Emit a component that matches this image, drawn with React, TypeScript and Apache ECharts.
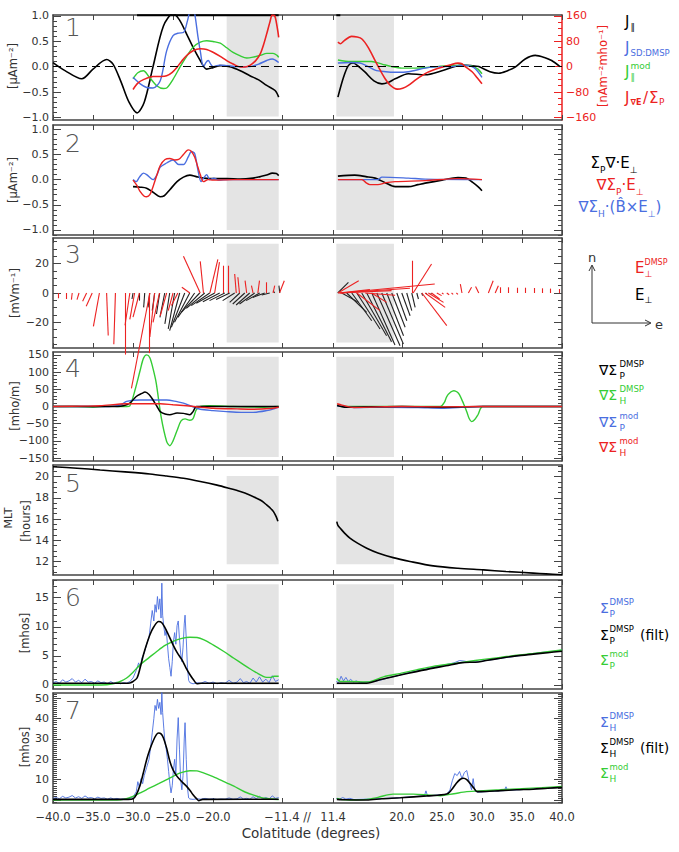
import React, { useEffect, useRef } from 'react';
import * as echarts from 'echarts';

const FONT = '"DejaVu Sans", sans-serif';
const BLACK = '#000000';
const BLUE = '#4a6ee0';
const GREEN = '#35cc35';
const RED = '#ec2222';
const AX = '#444444';
const TXT = '#333333';

// break in colatitude axis: -11.4 .. 11.4 is compressed
const GAP = 8.2;
const tx = (c: number) => (c < 0 ? c + GAP : c - GAP);

// x tick positions (real colatitude)
const xTicks = [-40, -35, -30, -25, -20, -11.4, 11.4, 20, 25, 30, 35, 40];

// ---------- Panel 1: field-aligned currents ----------
const j1BlackL = [[-40,0.08],[-38.5,-0.08],[-36.4,-0.24],[-35,-0.05],[-33.3,0.14],[-32.5,0.05],[-31.5,-0.3],[-30.5,-0.7],[-29.5,-0.91],[-28.6,-0.7],[-27.5,0.0],[-26.2,0.8],[-25.0,1.04],[-24.2,0.92],[-23.3,0.64],[-22.4,0.35],[-21.6,0.12],[-20.8,-0.05],[-20.0,-0.02],[-19.1,0.02],[-17.9,0.0],[-16.6,-0.08],[-15.4,-0.18],[-14.3,-0.26],[-13.3,-0.37],[-12.25,-0.47],[-11.8,-0.6]];
const j1BlackR = [[12.0,-0.6],[12.7,-0.21],[13.3,0.02],[13.9,0.07],[14.6,0.0],[15.4,-0.11],[16.5,-0.28],[17.5,-0.34],[18.3,-0.31],[19.15,-0.24],[20.8,-0.14],[22.9,-0.16],[25.0,-0.08],[26.5,0.0],[27.5,0.03],[28.6,0.02],[29.6,0.0],[31,-0.1],[32.1,-0.13],[33.2,-0.08],[34.15,-0.01],[35.4,0.15],[36.65,0.22],[37.8,0.18],[38.7,0.12],[39.75,0.0]];
const j1BarL = [[-29.5,1.01],[-11.8,1.01]];
const j1BarR = [[11.8,1.01],[12.3,1.01]];
const j1BlueL = [[-30.0,-0.21],[-29.1,-0.34],[-28.3,-0.41],[-27.5,-0.42],[-26.6,-0.28],[-25.8,0.31],[-25.0,0.61],[-24.3,0.66],[-23.7,0.67],[-23.2,0.9],[-22.9,1.1],[-22.6,1.2],[-22.3,1.05],[-21.9,0.6],[-21.6,0.31],[-21.2,-0.01],[-20.9,0.08],[-20.6,0.12],[-20.3,0.05],[-20.0,0.0],[-19.2,0.03],[-18.3,0.02],[-17,0.0],[-15.4,0.0],[-14.3,0.05],[-13.3,0.12],[-12.6,0.15],[-11.8,0.08]];
const j1BlueR = [[12.0,0.07],[13.5,0.08],[15.0,0.06],[16.65,-0.07],[18,-0.1],[19.15,-0.11],[20.8,-0.1],[22.9,-0.03],[24.5,0.0],[26.2,0.0],[27.8,0.03],[29.0,-0.02],[30.0,-0.21]];
const j1GreenL = [[-30.0,-0.24],[-29.4,-0.12],[-28.7,-0.08],[-28.0,-0.2],[-27.0,-0.38],[-26.2,-0.43],[-25.8,-0.42],[-25.0,-0.25],[-24.1,0.0],[-23.3,0.2],[-22.5,0.38],[-21.6,0.48],[-20.8,0.51],[-19.9,0.49],[-19.1,0.46],[-18.3,0.37],[-17.5,0.28],[-16.6,0.21],[-15.8,0.17],[-14.9,0.19],[-14.1,0.22],[-13.3,0.26],[-12.5,0.26],[-12.0,0.22],[-11.8,0.18]];
const j1GreenR = [[12.0,0.13],[13.6,0.1],[16.2,0.1],[17.5,0.05],[18.7,0.0],[20,-0.03],[21.3,-0.03],[24.4,0.0],[27.5,0.03],[28.8,0.01],[29.5,-0.05],[30.0,-0.14]];
// J_divE / Sigma_P  [nA m^-2 mho^-1]
const j1RedL = [[-30.0,-72],[-29.4,-52],[-28.7,-41],[-27.5,-31],[-26.5,-31],[-25.8,-29],[-25.1,-18],[-24.5,-2],[-23.9,18],[-23.3,35],[-22.5,50],[-21.6,56],[-20.8,54],[-20.0,45],[-19.1,32],[-18.3,19],[-17.5,8],[-16.6,-1],[-16.0,-1],[-15.4,4],[-14.7,18],[-14.1,40],[-13.7,68],[-13.3,103],[-12.9,140],[-12.6,162],[-12.3,160],[-12.1,140],[-11.9,110],[-11.8,92]];
const j1RedR = [[12.0,77],[12.3,72],[12.8,82],[13.7,95],[14.4,93],[15.0,87],[15.8,60],[16.65,19],[17.3,-12],[17.9,-38],[18.6,-60],[19.4,-71],[20.1,-68],[20.8,-59],[21.8,-40],[22.9,-22],[24.0,-10],[25.0,-2],[26.0,5],[27.0,11],[27.5,9],[27.9,0],[28.8,-17],[29.4,-35],[30.0,-54]];

// ---------- Panel 2: divergence terms ----------
const p2BlackL = [[-30.0,-0.14],[-29.1,-0.15],[-28.3,-0.17],[-27.5,-0.25],[-26.6,-0.34],[-26.1,-0.32],[-25.4,-0.2],[-24.5,-0.04],[-23.7,0.05],[-22.9,0.09],[-22.1,0.06],[-21.2,0.03],[-19.5,0.02],[-18.3,0.02],[-16.6,0.01],[-15.0,0.03],[-14.1,0.06],[-13.3,0.09],[-12.6,0.13],[-12.1,0.12],[-11.8,0.08]];
const p2RedL = [[-30.0,-0.01],[-29.5,-0.12],[-29.1,-0.24],[-28.6,-0.33],[-28.3,-0.34],[-27.9,-0.3],[-27.5,-0.14],[-27.0,0.1],[-26.6,0.28],[-26.0,0.4],[-25.4,0.42],[-24.8,0.39],[-24.3,0.4],[-23.7,0.5],[-23.1,0.59],[-22.7,0.56],[-22.3,0.45],[-21.9,0.25],[-21.6,0.1],[-21.2,-0.04],[-20.6,0.0],[-20,-0.01],[-17.5,0],[-11.8,0]];
const p2BlueL = [[-30.0,0.0],[-29.6,-0.04],[-29.2,0.05],[-28.7,0.13],[-28.3,0.1],[-27.5,0.0],[-27.0,0.1],[-26.6,0.25],[-25.8,0.33],[-25.0,0.39],[-24.3,0.3],[-23.7,0.3],[-23.1,0.45],[-22.7,0.56],[-22.3,0.52],[-21.9,0.2],[-21.5,-0.04],[-21.1,0.05],[-20.8,0.1],[-20.4,0.0],[-19.9,0.03],[-19.3,-0.01],[-18,0],[-11.8,0]];
const p2BlackR = [[12.0,0.07],[14.1,0.09],[15.5,0.06],[16.65,0.03],[17.9,-0.06],[19.15,-0.14],[20.8,-0.14],[22.0,-0.1],[22.9,-0.07],[25.0,-0.01],[27.0,0.04],[28.0,0.03],[28.8,-0.05],[29.5,-0.14],[30.0,-0.22]];
const p2RedR = [[12.0,0],[15.0,0],[15.5,-0.06],[16.0,-0.1],[17.0,-0.1],[18.0,-0.06],[19.15,-0.04],[22.9,-0.02],[27.0,0.02],[30.0,0]];
const p2BlueR = [[12.0,0],[17.0,0.0],[17.5,0.05],[20.8,0.03],[22.9,0.01],[30.0,0]];

// ---------- Panel 3: electric field vectors [base colat, d(east), north mV/m] ----------
const e3RedL = [[-39.4,0,-3.6],[-38.4,0,-4.1],[-37.6,-0.1,-4.5],[-36.75,-0.25,-4.5],[-35.8,-0.5,-5.7],[-35.1,-0.75,-9.1],[-34.2,-0.75,-22.7],[-33.3,0.2,-29],[-32.2,-0.2,-35],[-31.0,0,-42],[-30.4,-0.6,-22],[-29.8,-0.6,-18],[-29.2,-0.8,-16.5],[-28.0,0,-41],[-27.9,-2.3,-65],[-27.3,-0.6,-30],[-26.7,-0.8,-20],[-25.8,-0.8,-15.5],[-25.0,-0.6,-12],[-24.4,-0.8,-8.6],[-22.9,-1.0,3.9],[-21.6,-2.1,25],[-21.2,-0.4,21.6],[-20.4,1.0,23],[-19.8,0.6,21],[-18.75,0,18.6],[-18.1,0,18.6],[-17.1,-0.2,13],[-16.7,-0.2,10.7],[-15.8,-0.2,8.4],[-15.0,-0.2,5],[-14.4,0.2,8.4],[-13.3,0,7.3],[-12.5,0.2,5],[-11.7,0.6,8.4]];
const e3BlackL = [[-30.0,-0.13,-4.1],[-29.25,0,-5.2],[-28.54,-0.13,-9.8],[-27.92,-0.2,-9.8],[-27.3,-0.3,-12],[-26.67,-0.4,-14.3],[-26.04,-0.6,-16.6],[-25.42,-0.6,-21.1],[-24.8,-0.8,-24.5],[-24.17,-1.25,-25.7],[-23.54,-1.67,-23.4],[-22.92,-1.9,-20],[-22.3,-2.1,-16.6],[-21.67,-2.3,-13.2],[-21.04,-2.3,-10.5],[-20.42,-2.3,-8.6],[-19.8,-2.3,-7],[-19.17,-2.1,-5.9],[-18.54,-1.9,-5.2],[-17.92,-1.7,-4.5],[-17.3,-1.5,-5.2],[-16.67,-1.25,-6.4],[-16.04,-1.5,-7.5],[-15.42,-1.7,-8.2],[-14.8,-1.9,-7.5],[-14.17,-1.7,-5.2],[-13.54,-1.5,-3],[-12.92,-1.0,-1.4],[-12.3,-0.2,1.6],[-11.67,-0.1,5]];
const e3BlackR = [[11.98,1.33,7.3],[12.48,2.1,-6.4],[13.1,2.5,-13.2],[13.73,2.5,-18.9],[14.36,2.9,-24.5],[14.98,3.1,-29.1],[15.6,3.1,-33.2],[16.23,2.9,-35.5],[16.86,2.9,-35.9],[17.48,2.7,-34.8],[18.1,2.1,-29.1],[18.73,1.67,-23.4],[19.36,1.25,-18.9],[19.98,1.04,-15.5],[20.6,0.63,-12],[21.23,0.42,-9.8],[21.86,0.2,-4.1],[22.48,0.1,-1.8],[23.0,0.1,-0.8],[23.6,0.1,-0.6]];
const e3RedR = [[12.0,2.6,8.4],[12.1,3.9,2.3],[12.2,6.5,1.6],[12.3,8.7,3.2],[12.4,11.7,6.1],[14.36,2.9,-12],[15.4,3.75,-1.5],[16.2,1.9,-6.4],[21.3,0,22],[21.4,2.3,19.8],[22.5,3.1,-22.3],[22.9,2.5,-9.8],[23.3,1.9,-6.4],[23.7,1.0,-4.1],[24.36,0.6,-1.8],[25.0,0.2,-0.8],[25.6,0.3,-1.2],[26.2,0.2,-0.9],[26.8,0.2,-1],[27.5,-0.2,6.1],[28.3,0.4,3.9],[29.6,-0.4,4.5],[30.8,0.6,8.4],[31.65,0.4,5],[32.3,0,3.9],[33.3,0,3.9],[34.4,0,3.6],[35.4,0,3.6],[36.5,0,3.4],[37.5,0,3.2],[38.5,0,3.0],[39.6,0,2.7]];

// ---------- Panel 4: conductance gradients [mho/m] ----------
const p4GreenL = [[-40,0],[-37,0],[-35,-2],[-33,1],[-31.5,0],[-30.8,0],[-30.4,2],[-29.75,48],[-29.1,106],[-28.7,140],[-28.3,150],[-27.9,142],[-27.5,110],[-27.1,68],[-26.5,-29],[-25.8,-102],[-25.4,-114],[-25.0,-100],[-24.5,-70],[-24.0,-42],[-23.5,-36],[-22.9,-40],[-22.5,-35],[-22.1,-10],[-21.6,0],[-20.5,2],[-17.5,0],[-14,-2],[-11.8,0]];
const p4BlackL = [[-40,0],[-32,0],[-31.2,2],[-30.4,10],[-29.6,29],[-28.9,38],[-28.5,42],[-28.0,35],[-27.5,19],[-27.0,0],[-26.6,-15],[-26.0,-22],[-25.4,-24],[-24.5,-19],[-23.7,-20],[-22.9,-24],[-22.5,-15],[-22.1,0],[-21.5,0],[-11.8,0]];
const p4BlueL = [[-40,0],[-33,0],[-31.5,5],[-30.8,15],[-29.1,19],[-27,19],[-25.8,19],[-24.5,14],[-23.7,10],[-22.6,0],[-21.6,-8],[-20,-12],[-18.3,-15],[-16.5,-17],[-15,-17],[-13.3,-12],[-12.3,-6],[-11.8,-2]];
const p4RedL = [[-40,0],[-36,1],[-34.1,2],[-30.8,8],[-28,8],[-26.6,8],[-25,5],[-23.3,2],[-21.5,-2],[-20,-5],[-17,-7],[-15,-8],[-13,-6],[-11.8,-2]];
const p4GreenR = [[11.9,5],[12.5,0],[20,0],[24.8,0],[25.3,12],[25.6,29],[26.1,42],[26.5,46],[26.9,42],[27.2,34],[27.7,8],[28.1,-15],[28.4,-35],[28.7,-44],[29.1,-38],[29.5,-24],[30.1,0],[40,0]];
const p4BlackR = [[11.9,3],[13,-2],[16,-1],[20,0],[25,-2],[30,0],[40,0]];
const p4BlueR = [[11.9,2],[14,-3],[18,-2],[22,-3],[25,-5],[27,-3],[30,0],[40,0]];
const p4RedR = [[11.9,8],[12.5,4],[14,-3],[17,-1],[20,0],[25,-1],[30,0],[40,0]];

// ---------- Panel 5: MLT [hours] ----------
const mltL = [[-40,20.94],[-37,20.8],[-34.1,20.63],[-31,20.45],[-27.9,20.25],[-25.8,20.06],[-23.7,19.85],[-21.6,19.55],[-19.5,19.2],[-18,18.9],[-16.6,18.6],[-15.5,18.3],[-14.55,17.96],[-13.9,17.7],[-13.3,17.33],[-12.8,17.0],[-12.45,16.7],[-12.1,16.2],[-11.9,15.8]];
const mltR = [[11.86,15.75],[12.0,15.4],[12.3,15.13],[12.8,14.7],[13.5,14.2],[14.5,13.7],[15.6,13.25],[17,12.8],[18.9,12.36],[21,12.0],[23.9,11.58],[27,11.35],[30.2,11.2],[33,11.05],[36.4,10.9],[38,10.83],[40,10.74]];

// ---------- Panel 6: Pedersen conductance [mhos] ----------
const p6BlueL = [[-40,0.4],[-39.6,0.6],[-39.2,0.3],[-38.8,0.9],[-38.4,0.5],[-38,0.7],[-37.6,1.1],[-37.2,0.5],[-36.8,0.8],[-36.4,0.4],[-36,1.0],[-35.6,0.5],[-35.2,0.6],[-34.8,0.3],[-34.4,0.7],[-34,0.4],[-33.6,0.5],[-33.2,0.2],[-32.8,0.6],[-32.4,0.3],[-32,0.5],[-31.6,0.2],[-31.2,0.4],[-30.8,0.3],[-30.4,0.6],[-30,1.2],[-29.6,2.5],[-29.3,3.8],[-29.1,2.9],[-28.9,4.6],[-28.6,5.5],[-28.3,7.0],[-28.0,8.2],[-27.8,10.5],[-27.6,12.8],[-27.4,11.0],[-27.25,13.8],[-27.1,12.5],[-26.95,15.2],[-26.8,13.0],[-26.65,14.8],[-26.5,11.5],[-26.4,17.5],[-26.3,12.0],[-26.15,10.0],[-26.0,8.5],[-25.85,9.5],[-25.7,7.0],[-25.55,4.5],[-25.4,3.0],[-25.25,1.5],[-25.1,4.0],[-24.95,7.5],[-24.8,9.0],[-24.65,7.0],[-24.5,10.2],[-24.35,11.0],[-24.2,8.0],[-24.05,5.5],[-23.9,4.0],[-23.75,6.5],[-23.6,10.5],[-23.5,12.0],[-23.35,8.0],[-23.2,3.0],[-23.05,0.8],[-22.9,0.4],[-22.5,0.2],[-22,0.4],[-21.5,0.3],[-21,0.6],[-20.5,0.3],[-20,0.5],[-19.5,0.2],[-19,0.4],[-18.5,0.3],[-18,0.8],[-17.5,0.3],[-17,0.5],[-16.6,1.1],[-16.2,0.4],[-15.8,0.6],[-15.4,0.3],[-15,1.2],[-14.6,0.5],[-14.2,1.4],[-13.8,0.5],[-13.4,1.0],[-13,0.4],[-12.6,1.6],[-12.2,0.6],[-11.8,0.9]];
const p6BlueR = [[11.8,0.6],[12.1,0.4],[12.4,1.5],[12.7,0.7],[13.0,1.3],[13.3,0.6],[13.6,1.0],[13.9,0.5],[14.3,0.7],[14.8,0.4],[15.5,0.5],[16.5,0.6],[17.5,0.9],[18.5,1.3],[19.5,1.6],[20.5,2.0],[21.5,2.3],[22.5,2.6],[23.5,2.9],[24.5,3.2],[25.5,3.5],[26.5,3.8],[27.2,4.2],[27.8,4.1],[28.5,3.9],[29.5,4.0],[30.5,4.2],[31.5,4.4],[32.5,4.6],[33.5,4.8],[34.5,5.0],[35.5,5.2],[36.5,5.4],[37.5,5.6],[38.5,5.7],[39.5,5.9],[40,6.0]];
const p6BlackL = [[-40,0.3],[-35,0.3],[-31,0.3],[-30.4,0.35],[-30.0,0.6],[-29.5,1.2],[-29.1,3.0],[-28.7,5.2],[-28.3,7.0],[-27.9,8.6],[-27.4,10.0],[-26.8,10.9],[-26.4,10.7],[-26.0,9.8],[-25.5,8.4],[-25.0,6.9],[-24.5,5.6],[-23.9,4.35],[-23.4,3.0],[-22.9,1.8],[-22.4,0.8],[-22.0,0.2],[-21.5,0.3],[-16,0.3],[-11.8,0.3]];
const p6BlackR = [[11.86,0.3],[13,0.3],[14.5,0.3],[15.6,0.3],[17.5,1.0],[19.8,1.7],[21.8,2.3],[23.9,2.9],[25.5,3.3],[27.3,3.8],[28.5,3.9],[29.2,3.9],[30.5,4.2],[32.3,4.6],[34.3,5.0],[36.4,5.3],[38.2,5.55],[40,5.8]];
const p6GreenL = [[-40,0],[-34,0],[-32.5,0.2],[-31.6,0.6],[-30.8,1.2],[-30,2.2],[-29.1,3.5],[-28,4.7],[-27,5.8],[-26,6.8],[-25,7.5],[-23.9,8.0],[-22.9,8.2],[-22,8.15],[-21.2,7.8],[-20,6.9],[-18.7,5.8],[-17.4,4.6],[-16.2,3.5],[-15.3,2.7],[-14.55,2.1],[-13.9,1.6],[-13.3,1.3],[-12.8,1.3],[-12.4,1.5],[-11.8,1.5]];
const p6GreenR = [[11.86,1.15],[12.3,0.6],[13.5,0.6],[15.6,0.5],[17.7,1.4],[19.8,2.0],[21.8,2.6],[23.9,3.2],[26,3.6],[28.1,4.0],[30.2,4.4],[32.3,4.75],[34.3,5.1],[36.4,5.4],[38.2,5.7],[40,6.0]];

// ---------- Panel 7: Hall conductance [mhos] ----------
const p7BlueL = [[-40,0.8],[-39.6,1.2],[-39.2,0.6],[-38.8,1.8],[-38.4,1.0],[-38,1.4],[-37.6,2.2],[-37.2,1.0],[-36.8,1.6],[-36.4,0.8],[-36,2.0],[-35.6,1.0],[-35.2,1.2],[-34.8,0.6],[-34.4,1.4],[-34,0.8],[-33.6,1.0],[-33.2,0.4],[-32.8,1.0],[-32.4,0.5],[-32,0.8],[-31.6,0.4],[-31.2,0.6],[-30.8,0.5],[-30.4,0.8],[-30,1.5],[-29.6,4.0],[-29.4,9.0],[-29.2,6.0],[-29.0,10.5],[-28.8,8.0],[-28.6,12.0],[-28.3,16.0],[-28.0,20.0],[-27.8,26.0],[-27.6,33.0],[-27.4,40.0],[-27.25,46.5],[-27.1,44.0],[-26.95,49.5],[-26.8,45.0],[-26.65,48.0],[-26.5,42.0],[-26.4,53.0],[-26.3,43.0],[-26.15,35.0],[-26.0,28.0],[-25.85,25.0],[-25.7,20.0],[-25.55,14.0],[-25.4,8.0],[-25.25,3.5],[-25.1,7.0],[-24.95,15.0],[-24.8,20.0],[-24.65,12.0],[-24.5,30.0],[-24.35,40.5],[-24.2,25.0],[-24.05,10.0],[-23.9,5.0],[-23.75,12.0],[-23.6,30.0],[-23.5,38.0],[-23.35,20.0],[-23.2,6.0],[-23.05,1.0],[-22.9,0.5],[-22.5,0.3],[-22,0.6],[-21.5,0.4],[-21,0.8],[-20.5,0.4],[-20,0.6],[-19.5,0.3],[-19,0.5],[-18.5,0.4],[-18,1.0],[-17.5,0.4],[-17,0.6],[-16.6,1.5],[-16.2,0.5],[-15.8,0.8],[-15.4,0.4],[-15,1.6],[-14.6,0.6],[-14.2,1.8],[-13.8,0.6],[-13.4,1.2],[-13,0.5],[-12.6,2.0],[-12.2,0.8],[-11.8,1.2]];
const p7BlueR = [[11.8,0.8],[12.2,0.4],[12.6,1.2],[13,0.5],[13.5,0.8],[14,0.3],[15,0.4],[16,0.5],[17,0.6],[18,0.8],[19,1.0],[20,1.2],[21,1.5],[22,1.8],[22.8,2.0],[23.0,4.5],[23.2,2.0],[24,2.3],[25,2.6],[25.6,2.8],[26.0,5.0],[26.3,9.5],[26.6,13.0],[26.9,12.0],[27.2,14.0],[27.5,10.5],[27.8,13.5],[28.1,14.5],[28.4,9.0],[28.7,5.0],[28.9,10.5],[29.1,4.5],[29.5,3.8],[30,4.0],[31,4.2],[32,4.5],[32.8,4.6],[33.0,6.5],[33.2,4.7],[34,4.9],[35,5.1],[36,5.4],[37,5.6],[38,5.8],[39,6.0],[40,6.2]];
const p7BlackL = [[-40,0.3],[-35,0.3],[-30.6,0.3],[-30.0,0.6],[-29.6,2.5],[-29.1,7.5],[-28.7,13.5],[-28.3,19.8],[-27.9,24.8],[-27.5,28.9],[-27.1,32.0],[-26.8,32.9],[-26.5,32.5],[-26.2,30.5],[-25.8,25.5],[-25.4,19.0],[-25.0,14.8],[-24.5,11.6],[-23.9,9.0],[-23.3,6.7],[-22.9,4.8],[-22.5,2.6],[-22.1,0.8],[-21.8,-0.3],[-21.3,0.3],[-16,0.4],[-11.8,0.4]];
const p7BlackR = [[11.86,0.3],[13,0.1],[15.6,0.0],[17.5,0.6],[19.8,1.1],[23.1,2.0],[25.6,2.9],[26.2,5.0],[26.8,8.2],[27.3,10.2],[27.7,10.7],[28.1,10.0],[28.5,8.2],[29.0,5.8],[29.4,4.1],[30.5,4.2],[32.3,4.6],[34.3,5.0],[36.4,5.3],[38.2,5.8],[40,6.2]];
const p7GreenL = [[-40,0],[-32,0],[-31.2,0.3],[-30.0,1.8],[-28.9,3.9],[-27.9,5.9],[-26.8,8.0],[-25.8,10.0],[-24.9,11.9],[-24.1,13.3],[-22.9,14.4],[-22.0,14.3],[-21.2,13.3],[-20.0,11.5],[-18.7,9.2],[-17.4,6.8],[-16.2,4.3],[-15.1,2.6],[-14.1,1.3],[-13,0.6],[-11.8,0.2]];
const p7GreenR = [[11.86,0.8],[12.5,0.2],[13.5,0.0],[15.6,0.3],[17.0,1.3],[18.9,2.9],[21.4,2.9],[23.5,2.4],[24.8,2.1],[26.5,3.1],[28.1,4.1],[30.2,4.6],[32.3,5.0],[35,5.6],[37.5,6.1],[40,6.6]];

// shaded (data-gap) colatitude ranges
const shadeL = [-18.3, -11.8];
const shadeR = [11.8, 19.0];

// y tick labels per panel
const yMajors = [
  [-1, -0.5, 0, 0.5, 1],
  [-1, -0.5, 0, 0.5, 1],
  [-20, 0, 20],
  [-150, -100, -50, 0, 50, 100, 150],
  [12, 14, 16, 18, 20],
  [0, 5, 10, 15],
  [0, 10, 20, 30, 40, 50],
];
const redMajors = [-160, -80, 0, 80, 160];

// layout (pixels) and axis ranges
const PANELS = [
  { top: 15, height: 105, min: -1.05, max: 1.015, minor: 0.1, dec: 1, shade: [-0.98, 0.99] },
  { top: 125, height: 110, min: -1.1, max: 1.085, minor: 0.1, dec: 1, shade: [-1.0, 0.99] },
  { top: 238, height: 110, min: -37.5, max: 37.5, minor: 5, dec: 0, shade: [-33.7, 33.6] },
  { top: 352, height: 109, min: -158.5, max: 158.5, minor: 10, dec: 0, shade: [-147, 145] },
  { top: 465, height: 110, min: 10.72, max: 21.1, minor: 0.5, dec: 0, shade: [11.73, 20.07] },
  { top: 580, height: 109, min: -0.69, max: 18.04, minor: 1, dec: 0, shade: [0, 17.3] },
  { top: 693, height: 110, min: -1.48, max: 52.6, minor: 1, dec: 0, shade: [1.0, 50.1] },
];

const fmtNum = (v: number, dec: number) => (v < -1e-9 ? '\u2212' : '') + Math.abs(v).toFixed(dec);

function minorVals(min: number, max: number, step: number) {
  const out: number[] = [];
  const start = Math.ceil(min / step);
  const end = Math.floor(max / step);
  for (let i = start; i <= end; i++) out.push(+(i * step).toFixed(4));
  return out;
}

function buildOption() {
  const xT = xTicks.map(tx);
  const grid: any[] = [];
  const xAxis: any[] = [];
  const yAxis: any[] = [];
  PANELS.forEach((p, i) => {
    grid.push({ left: 53, width: 509, top: p.top, height: p.height });
    const xBase = {
      type: 'value', gridIndex: i, min: -31.8, max: 31.8,
      axisLine: { show: true, onZero: false, lineStyle: { color: AX, width: 1.5 } },
      axisTick: { show: true, inside: true, length: 5, customValues: xT, lineStyle: { color: AX } },
      splitLine: { show: false },
    };
    xAxis.push({
      ...xBase, position: 'bottom',
      axisLabel: {
        show: i === PANELS.length - 1, customValues: xT, hideOverlap: false,
        formatter: (v: number) => fmtNum(v < 0 ? v - GAP : v + GAP, 1),
        color: TXT, fontSize: 11.5, fontFamily: FONT, margin: 8,
      },
    });
    xAxis.push({ ...xBase, position: 'top', axisLabel: { show: false } });
    const majors = yMajors[i];
    const minors = minorVals(p.min, p.max, p.minor);
    const yBase = { type: 'value', gridIndex: i, min: p.min, max: p.max, splitLine: { show: false } };
    yAxis.push({
      ...yBase, position: 'left',
      axisLine: { show: true, onZero: false, lineStyle: { color: AX, width: 1.5 } },
      axisTick: { show: true, inside: true, length: 8, customValues: majors, lineStyle: { color: AX } },
      axisLabel: { show: true, customValues: majors, formatter: (v: number) => fmtNum(v, p.dec), color: TXT, fontSize: 11, fontFamily: FONT, margin: 4 },
    });
    yAxis.push({
      ...yBase, position: 'left',
      axisLine: { show: false, onZero: false },
      axisTick: { show: true, inside: true, length: 4, customValues: minors, lineStyle: { color: AX } },
      axisLabel: { show: false },
    });
    if (i === 0) {
      const rmin = p.min * 160, rmax = p.max * 160;
      yAxis.push({
        type: 'value', gridIndex: i, min: rmin, max: rmax, position: 'right', splitLine: { show: false },
        axisLine: { show: true, onZero: false, lineStyle: { color: RED, width: 1.5 } },
        axisTick: { show: true, inside: true, length: 8, customValues: redMajors, lineStyle: { color: RED } },
        axisLabel: { show: true, customValues: redMajors, formatter: (v: number) => fmtNum(v, 0), color: RED, fontSize: 11, fontFamily: FONT, margin: 4 },
      });
      yAxis.push({
        type: 'value', gridIndex: i, min: rmin, max: rmax, position: 'right', splitLine: { show: false },
        axisLine: { show: false, onZero: false },
        axisTick: { show: true, inside: true, length: 4, customValues: minorVals(rmin, rmax, 20), lineStyle: { color: RED } },
        axisLabel: { show: false },
      });
    } else {
      yAxis.push({
        ...yBase, position: 'right',
        axisLine: { show: true, onZero: false, lineStyle: { color: AX, width: 1.5 } },
        axisTick: { show: true, inside: true, length: 8, customValues: majors, lineStyle: { color: AX } },
        axisLabel: { show: false },
      });
      yAxis.push({
        ...yBase, position: 'right',
        axisLine: { show: false, onZero: false },
        axisTick: { show: true, inside: true, length: 4, customValues: minors, lineStyle: { color: AX } },
        axisLabel: { show: false },
      });
    }
  });

  const series: any[] = [];
  const ln = (p: number, data: number[][], color: string, width = 1.4, extra: any = {}) => {
    series.push({
      type: 'line', xAxisIndex: 2 * p, yAxisIndex: extra.yIdx ?? 4 * p,
      data: data.map(([c, v]) => [tx(c), v]),
      symbol: 'none', showSymbol: false, smooth: extra.smooth ?? 0.3,
      clip: extra.clip ?? true,
      lineStyle: { color, width }, silent: true, z: 3,
      ...(extra.mark || {}),
    });
  };
  const vec = (p: number, data: number[][], color: string) => {
    series.push({
      type: 'lines', coordinateSystem: 'cartesian2d', xAxisIndex: 2 * p, yAxisIndex: 4 * p,
      clip: false, silent: true, z: 3,
      lineStyle: { color, width: 1.1, opacity: 1, curveness: 0 },
      data: data.map(([b, d, v]) => ({ coords: [[tx(b), 0], [tx(b + d), v]] })),
    });
  };
  const shadeMark = (p: number) => ({
    markArea: {
      silent: true, z: 1,
      itemStyle: { color: '#e4e4e4' },
      data: [
        [{ xAxis: tx(shadeL[0]), yAxis: PANELS[p].shade[0] }, { xAxis: tx(shadeL[1]), yAxis: PANELS[p].shade[1] }],
        [{ xAxis: tx(shadeR[0]), yAxis: PANELS[p].shade[0] }, { xAxis: tx(shadeR[1]), yAxis: PANELS[p].shade[1] }],
      ],
    },
  });

  // panel 1
  ln(0, j1BlackL, BLACK, 1.6, {
    mark: {
      ...shadeMark(0),
      markLine: { silent: true, symbol: 'none', label: { show: false }, lineStyle: { color: BLACK, type: [8, 5], width: 1 }, data: [{ yAxis: 0 }] },
    },
  });
  ln(0, j1BlackR, BLACK, 1.6);
  ln(0, j1BarL, BLACK, 2, { clip: false, smooth: false });
  ln(0, j1BarR, BLACK, 2, { clip: false, smooth: false });
  ln(0, j1GreenL, GREEN); ln(0, j1GreenR, GREEN);
  ln(0, j1BlueL, BLUE); ln(0, j1BlueR, BLUE);
  ln(0, j1RedL, RED, 1.6, { yIdx: 2 }); ln(0, j1RedR, RED, 1.6, { yIdx: 2 });
  // panel 2
  ln(1, p2BlackL, BLACK, 1.6, { mark: shadeMark(1) });
  ln(1, p2BlackR, BLACK, 1.6);
  ln(1, p2BlueL, BLUE); ln(1, p2BlueR, BLUE);
  ln(1, p2RedL, RED); ln(1, p2RedR, RED);
  // panel 3
  series.push({ type: 'line', xAxisIndex: 4, yAxisIndex: 8, data: [[tx(-40), 0]], symbol: 'none', lineStyle: { width: 0 }, silent: true, ...shadeMark(2) });
  vec(2, e3BlackL, '#222'); vec(2, e3BlackR, '#222');
  vec(2, e3RedL, RED); vec(2, e3RedR, RED);
  // panel 4
  ln(3, p4GreenL, GREEN, 1.4, { mark: shadeMark(3) }); ln(3, p4GreenR, GREEN);
  ln(3, p4BlueL, BLUE); ln(3, p4BlueR, BLUE);
  ln(3, p4BlackL, BLACK, 1.5); ln(3, p4BlackR, BLACK, 1.5);
  ln(3, p4RedL, RED); ln(3, p4RedR, RED);
  // panel 5
  ln(4, mltL, BLACK, 1.6, { mark: shadeMark(4) }); ln(4, mltR, BLACK, 1.6);
  // panel 6
  ln(5, p6BlueL, BLUE, 0.9, { smooth: false, mark: shadeMark(5) }); ln(5, p6BlueR, BLUE, 0.9, { smooth: false });
  ln(5, p6GreenL, GREEN, 1.4); ln(5, p6GreenR, GREEN, 1.4);
  ln(5, p6BlackL, BLACK, 1.6); ln(5, p6BlackR, BLACK, 1.6);
  // panel 7
  ln(6, p7BlueL, BLUE, 0.9, { smooth: false, mark: shadeMark(6) }); ln(6, p7BlueR, BLUE, 0.9, { smooth: false });
  ln(6, p7GreenL, GREEN, 1.4); ln(6, p7GreenR, GREEN, 1.4);
  ln(6, p7BlackL, BLACK, 1.6); ln(6, p7BlackR, BLACK, 1.6);

  // ---------- graphic texts ----------
  const T = (x: number, y: number, text: string, o: any = {}) => ({
    type: 'text', x, y, rotation: o.rot || 0, silent: true, z: 10,
    style: {
      text, fill: o.color || TXT, fontSize: o.size || 12, fontFamily: FONT,
      fontWeight: o.weight || 'normal', align: o.align || 'left', verticalAlign: 'middle',
      rich: o.rich, lineHeight: o.lh,
    },
  });
  const g: any[] = [];
  [27, 143, 254, 368, 483, 597, 710].forEach((y, i) => g.push(T(73, y, String(i + 1), { size: 25, color: '#555', align: 'center', weight: 200 })));
  const R = Math.PI / 2;
  g.push(T(13, 66, '[\u03bcAm\u207b\u00b2]', { rot: R, align: 'center', size: 11.5 }));
  g.push(T(13, 180, '[\u03bcAm\u207b\u00b2]', { rot: R, align: 'center', size: 11.5 }));
  g.push(T(15, 293, '[mVm\u207b\u00b9]', { rot: R, align: 'center', size: 11.5 }));
  g.push(T(15, 406, '[mho/m]', { rot: R, align: 'center', size: 11.5 }));
  g.push(T(8, 518, 'MLT', { rot: R, align: 'center', size: 11 }));
  g.push(T(26, 521, '[hours]', { rot: R, align: 'center', size: 11.5 }));
  g.push(T(25, 633, '[mhos]', { rot: R, align: 'center', size: 11.5 }));
  g.push(T(25, 747, '[mhos]', { rot: R, align: 'center', size: 11.5 }));
  g.push(T(603, 66, '[nAm\u207b\u00b2mho\u207b\u00b9]', { rot: R, align: 'center', size: 11.5, color: RED }));
  g.push(T(311, 833, 'Colatitude (degrees)', { align: 'center', size: 13.5 }));
  g.push(T(307, 817, '//', { align: 'center', size: 11.5 }));

  // panel 1 legend
  g.push(T(625, 22, 'J', { size: 15, color: BLACK }), T(630.5, 27, '\u2225', { size: 9, color: BLACK }));
  g.push(T(625, 48, 'J', { size: 15, color: BLUE }), T(630.5, 53, 'SD:DMSP', { size: 8.5, color: BLUE }));
  g.push(T(625, 72, 'J', { size: 15, color: GREEN }), T(630.5, 66, 'mod', { size: 9, color: GREEN }), T(630.5, 77, '\u2225', { size: 9, color: GREEN }));
  g.push(T(625, 98, 'J', { size: 15, color: RED }), T(630.5, 102, '\u2207E', { size: 8, color: RED, weight: 'bold' }),
    T(643, 98, '/', { size: 15, color: RED }), T(649, 98, '\u03a3', { size: 15, color: RED }), T(659, 102, 'P', { size: 9, color: RED }));

  // panel 2 legend
  const rich = (c: string) => ({ s: { fontSize: 9, lineHeight: 11, verticalAlign: 'bottom', fill: c, fontFamily: FONT } });
  g.push(T(614, 163, '\u03a3{s|P}\u2207\u00b7E{s|\u22a5}', { size: 15, color: BLACK, align: 'center', rich: rich(BLACK), lh: 22 }));
  g.push(T(620, 185, '\u2207\u03a3{s|P}\u00b7E{s|\u22a5}', { size: 15, color: RED, align: 'center', rich: rich(RED), lh: 22 }));
  g.push(T(620, 207, '\u2207\u03a3{s|H}\u00b7(B\u0302\u00d7E{s|\u22a5})', { size: 15, color: BLUE, align: 'center', rich: rich(BLUE), lh: 22 }));

  // panel 3 legend
  g.push({ type: 'line', silent: true, shape: { x1: 592, y1: 323, x2: 592, y2: 266 }, style: { stroke: '#333', lineWidth: 1 } });
  g.push({ type: 'line', silent: true, shape: { x1: 592, y1: 323, x2: 650, y2: 323 }, style: { stroke: '#333', lineWidth: 1 } });
  g.push({ type: 'polyline', silent: true, shape: { points: [[589, 271], [592, 265], [595, 271]] }, style: { stroke: '#333', lineWidth: 1, fill: 'none' } });
  g.push({ type: 'polyline', silent: true, shape: { points: [[645, 320], [651, 323], [645, 326]] }, style: { stroke: '#333', lineWidth: 1, fill: 'none' } });
  g.push(T(592, 257, 'n', { size: 13, align: 'center' }), T(655, 324, 'e', { size: 13 }));
  g.push(T(635, 268, 'E', { size: 15, color: RED }), T(644.5, 262, 'DMSP', { size: 8, color: RED }), T(644.5, 274, '\u22a5', { size: 9, color: RED }));
  g.push(T(635, 295, 'E', { size: 15, color: BLACK }), T(644.5, 300, '\u22a5', { size: 9, color: BLACK }));

  // panel 4 legend
  ([[370, BLACK, 'DMSP', 'P'], [395, GREEN, 'DMSP', 'H'], [422, BLUE, 'mod', 'P'], [447, RED, 'mod', 'H']] as any[]).forEach(([y, c, sup, sub]) => {
    g.push(T(599, y, '\u2207\u03a3', { size: 14, color: c }), T(619.5, y - 6, sup, { size: 8.5, color: c }), T(619.5, y + 6, sub, { size: 9, color: c }));
  });
  // panel 6 & 7 legends
  const sig = (y: number, c: string, sup: string, sub: string, filt: boolean) => {
    g.push(T(600, y, '\u03a3', { size: 14, color: c }), T(609.5, y - 6, sup, { size: 8.5, color: c }), T(609.5, y + 6, sub, { size: 9, color: c }));
    if (filt) g.push(T(640, y, '(filt)', { size: 14, color: c }));
  };
  sig(608, BLUE, 'DMSP', 'P', false); sig(635, BLACK, 'DMSP', 'P', true); sig(660, GREEN, 'mod', 'P', false);
  sig(722, BLUE, 'DMSP', 'H', false); sig(748, BLACK, 'DMSP', 'H', true); sig(773, GREEN, 'mod', 'H', false);

  return {
    animation: false,
    backgroundColor: '#ffffff',
    textStyle: { fontFamily: FONT },
    grid, xAxis, yAxis, series,
    graphic: { elements: g },
  };
}

export default function App() {
  const ref = useRef<HTMLDivElement>(null);
  useEffect(() => {
    const chart = echarts.init(ref.current!, null, { renderer: 'svg' });
    chart.setOption(buildOption() as any);
    return () => chart.dispose();
  }, []);
  return <div ref={ref} style={{ position: 'absolute', left: 0, top: 0, width: 679, height: 852, background: '#fff' }} />;
}
